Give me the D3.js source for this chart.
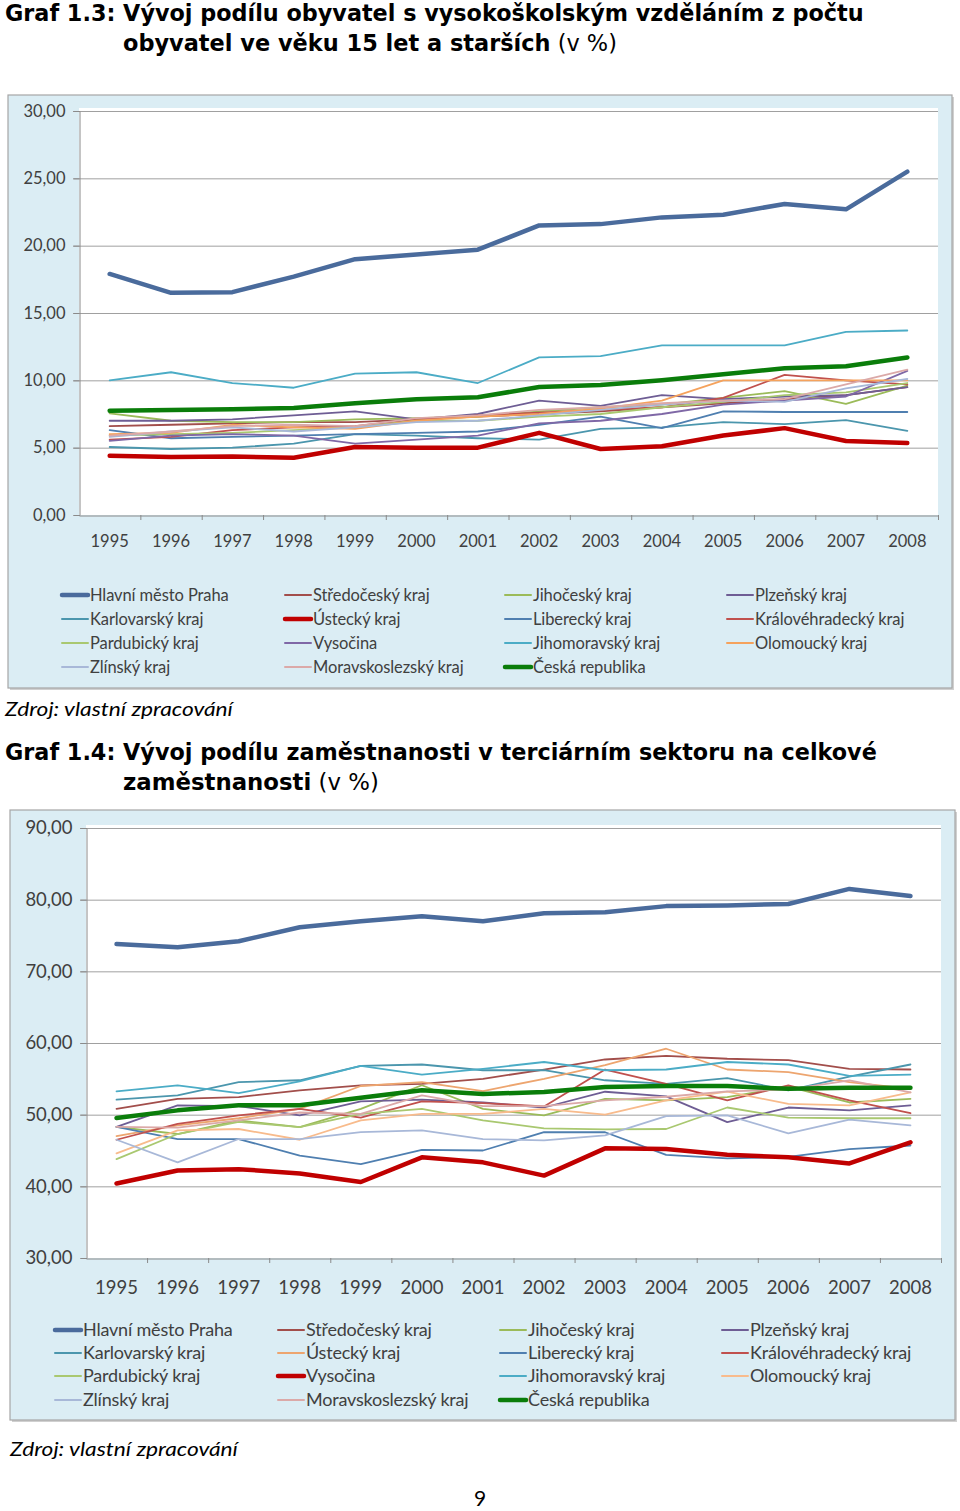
<!DOCTYPE html>
<html><head><meta charset="utf-8">
<script src="https://cdn.jsdelivr.net/npm/d3@7"></script>
<style>body{margin:0;background:#fff}svg{display:block}</style>
</head><body>
<svg id="c" width="960" height="1511"></svg>
<script>
// ---------- DATA ----------
const years = ["1995","1996","1997","1998","1999","2000","2001","2002","2003","2004","2005","2006","2007","2008"];
const seriesNames = ["Hlavní město Praha","Středočeský kraj","Jihočeský kraj","Plzeňský kraj",
  "Karlovarský kraj","Ústecký kraj","Liberecký kraj","Královéhradecký kraj",
  "Pardubický kraj","Vysočina","Jihomoravský kraj","Olomoucký kraj",
  "Zlínský kraj","Moravskoslezský kraj","Česká republika"];
const eduTicks = [0,5,10,15,20,25,30];
const empTicks = [30,40,50,60,70,80,90];

// Graf 1.3 – share with university education (%)
const eduPraha   = [17.9,16.5,16.55,17.7,19.0,19.35,19.7,21.5,21.6,22.1,22.3,23.1,22.7,25.5];
const eduStredo  = [6.6,6.7,6.8,6.9,6.9,7.1,7.3,7.5,7.7,8.0,8.3,8.6,8.9,9.5];
const eduJihoc   = [7.55,7.0,6.9,6.9,7.1,7.2,7.3,7.7,8.0,8.2,8.7,9.2,8.25,9.6];
const eduPlzen   = [7.0,7.0,7.1,7.4,7.7,7.1,7.5,8.5,8.1,8.9,8.6,8.8,8.9,9.5];
const eduKarlov  = [5.05,4.9,5.0,5.3,6.0,5.9,5.7,5.6,6.4,6.5,6.9,6.75,7.05,6.25];
const eduUstec   = [4.4,4.3,4.35,4.25,5.05,5.0,5.0,6.1,4.9,5.1,5.9,6.45,5.5,5.35];
const eduLiber   = [6.3,5.7,5.8,5.9,6.0,6.1,6.2,6.7,7.3,6.45,7.7,7.65,7.65,7.65];
const eduKralov  = [5.6,5.8,6.3,6.5,6.6,7.1,7.4,7.6,7.8,8.0,8.7,10.4,10.0,9.7];
const eduPardub  = [5.9,6.0,6.1,6.3,6.5,7.0,7.0,7.3,7.5,8.0,8.4,8.9,9.1,9.8];
const eduVysoc   = [5.5,5.9,6.0,5.9,5.3,5.6,5.9,6.8,7.0,7.5,8.2,8.5,8.8,10.7];
const eduJihom   = [10.0,10.6,9.8,9.45,10.5,10.6,9.8,11.7,11.8,12.6,12.6,12.6,13.6,13.7];
const eduOlom    = [6.0,6.1,6.7,6.5,6.4,7.0,7.3,7.5,7.9,8.5,10.0,10.0,10.0,10.0];
const eduZlin    = [5.8,6.2,6.5,6.2,6.5,6.9,7.0,7.4,7.8,8.2,8.5,8.4,9.4,10.1];
const eduMorav   = [5.9,6.2,6.6,6.7,6.6,7.2,7.4,7.8,8.0,8.3,8.5,8.6,9.7,10.8];
const eduCR      = [7.75,7.8,7.85,7.95,8.3,8.6,8.75,9.5,9.65,10.0,10.45,10.9,11.05,11.7];

// Graf 1.4 – share of employment in tertiary sector (%)
const empPraha   = [73.8,73.35,74.2,76.15,77.0,77.7,77.0,78.1,78.25,79.1,79.2,79.4,81.5,80.5];
const empStredo  = [50.8,52.2,52.45,53.4,54.1,54.3,55.0,56.3,57.7,58.2,57.8,57.6,56.4,56.3];
const empJihoc   = [48.3,47.3,49.2,48.25,50.8,54.1,50.8,49.9,52.2,52.0,52.45,53.9,51.7,52.2];
const empPlzen   = [48.3,51.3,51.2,49.9,51.85,52.1,51.7,51.0,53.2,52.55,48.95,51.0,50.6,51.3];
const empKarlov  = [52.1,52.7,54.55,54.8,56.8,57.0,56.2,56.2,54.8,54.3,55.1,53.4,55.3,57.0];
const empUstec   = [47.0,48.5,49.5,50.8,54.0,54.55,53.3,55.0,56.9,59.2,56.3,55.95,54.55,53.6];
const empLiber   = [48.3,46.6,46.6,44.3,43.1,45.1,45.0,47.55,47.55,44.4,43.9,44.1,45.2,45.7];
const empKralov  = [46.5,48.7,49.9,50.8,49.6,51.85,51.6,51.15,56.3,54.3,52.0,54.1,52.0,50.2];
const empPardub  = [43.8,47.3,49.0,48.25,50.1,50.8,49.2,48.1,47.95,48.0,51.0,49.6,49.5,49.5];
const empVysoc   = [40.4,42.2,42.4,41.8,40.6,44.05,43.35,41.5,45.3,45.2,44.4,44.05,43.2,46.15];
const empJihom   = [53.25,54.1,53.0,54.65,56.8,55.6,56.4,57.35,56.2,56.3,57.35,57.0,55.4,55.6];
const empOlom    = [44.6,47.8,48.0,46.5,49.2,50.1,50.1,50.8,50.0,52.0,53.2,51.5,51.3,53.1];
const empZlin    = [46.5,43.35,46.6,46.6,47.55,47.8,46.6,46.4,47.1,49.8,49.9,47.4,49.3,48.5];
const empMorav   = [48.3,48.2,49.2,50.3,50.1,52.7,51.2,51.2,52.0,52.5,53.25,53.5,54.8,53.1];
const empCR      = [49.55,50.6,51.3,51.3,52.35,53.4,52.9,53.15,53.85,54.0,54.0,53.6,53.75,53.75];

// ---------- STYLE ----------
const eduSeries = [eduPraha,eduStredo,eduJihoc,eduPlzen,eduKarlov,eduUstec,eduLiber,eduKralov,eduPardub,eduVysoc,eduJihom,eduOlom,eduZlin,eduMorav,eduCR];
const empSeries = [empPraha,empStredo,empJihoc,empPlzen,empKarlov,empUstec,empLiber,empKralov,empPardub,empVysoc,empJihom,empOlom,empZlin,empMorav,empCR];
const eduColors = ["#4a6b9c","#a24e4b","#9bbb59","#6e5d94","#4b96ad","#c00000","#4f7fb0","#c0504d","#a9c870","#7f68a6","#4bacc6","#f5a25c","#a8b8d8","#dba9a8","#0a7d0a"];
const empColors = ["#4a6b9c","#a24e4b","#9bbb59","#6e5d94","#4b96ad","#eda56f","#4f7fb0","#c0504d","#a9c870","#c00000","#4bacc6","#f8bb8c","#a8b8d8","#dba9a8","#0a7d0a"];
const eduThick = [0,5,14];
const empThick = [0,9,14];

const svg = d3.select("#c");
const fmt = v => d3.format(".2f")(v).replace(".", ",");

// text squeezed horizontally by a group transform so that it spans targetW
function fitText(x, y, parts, targetW, size, family, style){
  const g = svg.append("g");
  const t = g.append("text").attr("x",0).attr("y",0).attr("font-family",family)
    .attr("font-size",size).attr("fill","#000").attr("font-style",style||"normal");
  parts.forEach(p => t.append("tspan").attr("font-weight",p.w).text(p.t));
  const w = t.node().getComputedTextLength();
  g.attr("transform",`translate(${x},${y}) scale(${targetW/w},1)`);
}

function title(y1, y2, line1, bold2, line1w, line2w){
  fitText(5, y1, [{t:line1,w:"bold"}], line1w, 23, "DejaVu Sans");
  fitText(123, y2, [{t:bold2,w:"bold"},{t:" (v %)",w:"normal"}], line2w, 23, "DejaVu Sans");
}

function chart(cfg){
  const g = svg.append("g");
  g.append("rect").attr("x",cfg.box[0]+2).attr("y",cfg.box[1]+2).attr("width",cfg.box[2]).attr("height",cfg.box[3]).attr("fill","#d0d0d0");
  g.append("rect").attr("x",cfg.box[0]).attr("y",cfg.box[1]).attr("width",cfg.box[2]).attr("height",cfg.box[3])
    .attr("fill","#dbedf4").attr("stroke","#a6a6a6").attr("stroke-width",1.2);
  const x = d3.scaleBand().domain(years).range([cfg.left,cfg.right]).padding(0);
  const y = d3.scaleLinear().domain(cfg.domain).range([cfg.bottom,cfg.top]);
  g.append("rect").attr("x",cfg.left).attr("y",cfg.top-3).attr("width",cfg.right-cfg.left).attr("height",cfg.bottom-cfg.top+3).attr("fill","#fff");
  g.append("g").selectAll("line").data(cfg.ticks.slice(1)).join("line")
    .attr("x1",cfg.left-6).attr("x2",cfg.right).attr("y1",d=>y(d)+0.5).attr("y2",d=>y(d)+0.5)
    .attr("stroke","#a0a0a0").attr("stroke-width",1);
  const ya = g.append("g").attr("transform",`translate(${cfg.left+0.5},0)`)
    .call(d3.axisLeft(y).tickValues(cfg.ticks).tickFormat(fmt).tickSize(6).tickPadding(8));
  ya.select(".domain").attr("stroke","#8a8a8a");
  ya.selectAll(".tick line").attr("stroke","#8a8a8a");
  ya.selectAll("text").attr("font-family","Lato").attr("font-size",cfg.fs).attr("fill","#404040");
  const xa = g.append("g").attr("transform",`translate(0,${cfg.bottom+0.5})`)
    .call(d3.axisBottom(x).tickSize(0).tickPadding(cfg.xpad));
  xa.select(".domain").attr("stroke","#8a8a8a");
  xa.selectAll("text").attr("font-family","Lato").attr("font-size",cfg.fs).attr("fill","#404040");
  g.append("g").selectAll("line").data(years.slice(1).concat(["end"])).join("line")
    .attr("x1",(d,i)=> (i<years.length-1? x(d): cfg.right)+0.5).attr("x2",(d,i)=> (i<years.length-1? x(d): cfg.right)+0.5)
    .attr("y1",cfg.bottom).attr("y2",cfg.bottom+5).attr("stroke","#8a8a8a");
  const line = d3.line().x((d,i)=>x(years[i])+x.bandwidth()/2).y(d=>y(d));
  const order = d3.range(cfg.series.length).filter(i=>!cfg.thick.includes(i)).concat(cfg.thick);
  g.append("g").selectAll("path").data(order).join("path")
    .attr("d",i=>line(cfg.series[i])).attr("fill","none")
    .attr("stroke",i=>cfg.colors[i]).attr("stroke-width",i=>cfg.thick.includes(i)?4.5:1.8)
    .attr("stroke-linejoin","round").attr("stroke-linecap","round");
  const lg = g.append("g").selectAll("g").data(seriesNames).join("g")
    .attr("transform",(d,i)=>`translate(${cfg.legX[i%4]},${cfg.legY[Math.floor(i/4)]})`);
  lg.append("line").attr("x1",0).attr("x2",26).attr("y1",0).attr("y2",0)
    .attr("stroke",(d,i)=>cfg.colors[i]).attr("stroke-width",(d,i)=>cfg.thick.includes(i)?4.5:2).attr("stroke-linecap","round");
  lg.append("text").attr("x",28).attr("y",0).attr("dy","0.35em").attr("font-family","Lato")
    .attr("font-size",cfg.lfs).attr("fill","#404040").attr("letter-spacing",cfg.ls).text(d=>d);
}

title(21, 51, "Graf 1.3: Vývoj podílu obyvatel s vysokoškolským vzděláním z počtu",
  "obyvatel ve věku 15 let a starších", 859, 494);

chart({box:[8,95,944,593], left:79, right:938, top:111, bottom:515, domain:[0,30], ticks:eduTicks,
  series:eduSeries, colors:eduColors, thick:eduThick, fs:16.5, xpad:20,
  legX:[62,285,505,727], legY:[595,619,643,667], lfs:16.5, ls:-0.1});

fitText(5, 716, [{t:"Zdroj: vlastní zpracování",w:"normal"}], 228, 20, "Lato", "italic");

title(760, 790, "Graf 1.4: Vývoj podílu zaměstnanosti v terciárním sektoru na celkové",
  "zaměstnanosti", 872, 256);

chart({box:[10,810,945,610], left:86, right:941, top:828, bottom:1258, domain:[30,90], ticks:empTicks,
  series:empSeries, colors:empColors, thick:empThick, fs:18.5, xpad:22,
  legX:[55,278,500,722], legY:[1330,1353,1376,1400], lfs:18, ls:-0.2});

fitText(10, 1456, [{t:"Zdroj: vlastní zpracování",w:"normal"}], 228, 20, "Lato", "italic");

svg.append("text").attr("x",480).attr("y",1506).attr("text-anchor","middle").attr("font-family","Lato")
  .attr("font-size",21).attr("fill","#000").text("9");
</script>
</body></html>
